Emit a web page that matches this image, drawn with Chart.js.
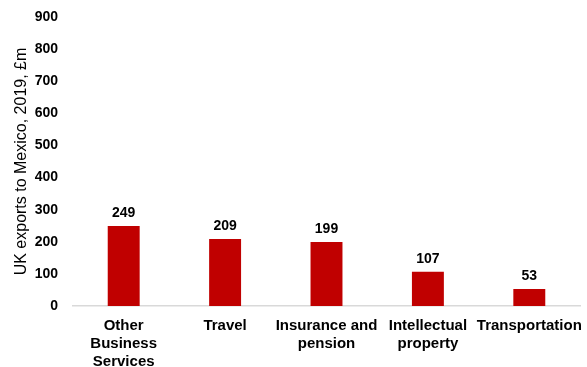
<!DOCTYPE html>
<html>
<head>
<meta charset="utf-8">
<script src="https://cdn.jsdelivr.net/npm/chart.js@4"></script>
<style>
  html, body { margin: 0; padding: 0; background: #fff; }
  #wrap { width: 587px; height: 367px; }
</style>
</head>
<body>
<div id="wrap"><canvas id="exportsChart" width="587" height="367"></canvas></div>
<script>
// UK service exports to Mexico, 2019 (£m)
const categories = [
    ['Other', 'Business', 'Services'],
    ['Travel'],
    ['Insurance and', 'pension'],
    ['Intellectual', 'property'],
    ['Transportation']
];
const exportValues = [249, 209, 199, 107, 53];
const yTicks = [0, 100, 200, 300, 400, 500, 600, 700, 800, 900];

const barRed = '#C00000';
const fontFamily = '"Liberation Sans", Arial, Helvetica, sans-serif';

// value labels above each bar
const valueLabels = {
    id: 'valueLabels',
    afterDatasetsDraw(chart) {
        const ctx = chart.ctx;
        const meta = chart.getDatasetMeta(0);
        ctx.save();
        ctx.font = 'bold 14px ' + fontFamily;
        ctx.fillStyle = '#000';
        ctx.textAlign = 'center';
        ctx.textBaseline = 'bottom';
        meta.data.forEach((bar, i) => {
            ctx.fillText(String(exportValues[i]), bar.x, bar.y - 6);
        });
        ctx.restore();
    }
};

new Chart(document.getElementById('exportsChart'), {
    type: 'bar',
    data: {
        labels: categories,
        datasets: [{
            data: exportValues,
            backgroundColor: barRed,
            borderWidth: 0,
            categoryPercentage: 1,
            barPercentage: 0.315
        }]
    },
    options: {
        responsive: false,
        animation: false,
        layout: { padding: { top: 17, right: 7, left: 14, bottom: 0 } },
        plugins: {
            legend: { display: false },
            tooltip: { enabled: false }
        },
        scales: {
            x: {
                // fixed label band; plot edges don't move for overhanging labels
                afterFit(axis) {
                    axis.paddingLeft = 0;
                    axis.paddingRight = 0;
                    axis.height = 61;
                },
                grid: { display: false, drawTicks: false },
                border: { display: true, color: '#d9d9d9', width: 1.5 },
                ticks: {
                    color: '#000',
                    padding: 11,
                    maxRotation: 0,
                    autoSkip: false,
                    font: { family: fontFamily, size: 15, weight: 'bold', lineHeight: 1.2 }
                }
            },
            y: {
                min: 0,
                max: 900,
                afterBuildTicks(axis) {
                    axis.ticks = yTicks.map(v => ({ value: v }));
                },
                afterFit(axis) {
                    axis.paddingTop = 0;
                    axis.paddingBottom = 0;
                    axis.width = 59;
                },
                grid: { display: false, drawTicks: false },
                border: { display: false },
                ticks: {
                    color: '#000',
                    padding: 15,
                    font: { family: fontFamily, size: 14, weight: 'bold' }
                },
                title: {
                    display: true,
                    text: 'UK exports to Mexico, 2019, £m',
                    color: '#000',
                    padding: { top: 0, bottom: 4 },
                    font: { family: fontFamily, size: 16, lineHeight: 1 }
                }
            }
        }
    },
    plugins: [valueLabels]
});
</script>
</body>
</html>
